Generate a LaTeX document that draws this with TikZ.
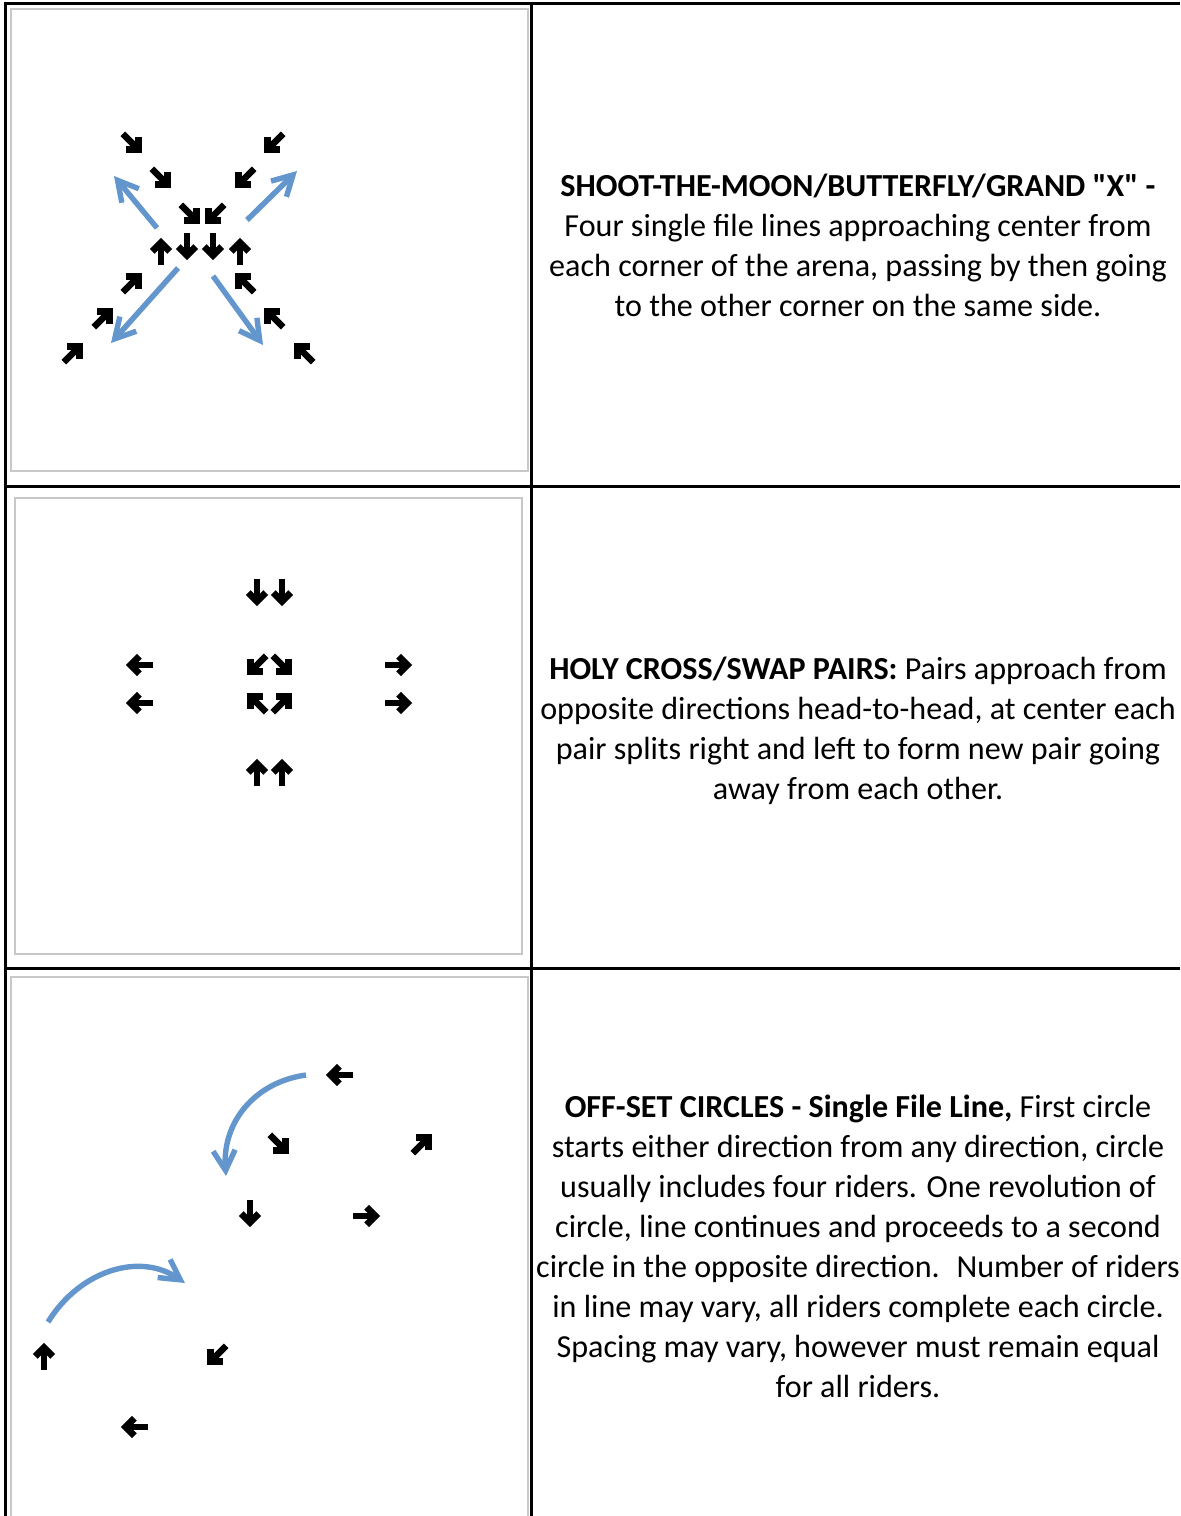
\documentclass[tikz,border=0pt]{standalone}
\usepackage{fontspec}
\setmainfont{Carlito}[Ligatures=TeXOff]
\usetikzlibrary{arrows.meta}
\definecolor{moveblue}{RGB}{99,150,205}
\definecolor{framegray}{RGB}{200,200,200}

\begin{document}
\begin{tikzpicture}[%
            x=0.5pt, y=-0.5pt,
            myrule/.style={line width=1.5pt},
            myframe/.style={draw=framegray, line width=1pt},
            mymove/.style={draw=moveblue, line width=2.7pt,
                -{Straight Barb[length=10pt,width=11pt]},
                preaction={draw=black, opacity=0.12,
                    transform canvas={shift={(0.9pt,-0.9pt)}}}},
            mytext/.style={align=center, font=\fontsize{16.05}{20}\selectfont},
            myrider/.pic={
                \draw [line width=3.2pt] (-6.5pt,0) -- (4pt,0);
                \draw [line width=3.4pt] (0.3pt,-4.4pt) -- (4.7pt,0) -- (0.3pt,4.4pt);
            }
    ]
        \useasboundingbox (0,0) rectangle (1180,1516);

        % table rules
        \draw [myrule] (5,1516) -- (5,3) -- (1180,3);
        \draw [myrule] (531,3) -- (531,1516);
        \draw [myrule] (5,486) -- (1180,486);
        \draw [myrule] (5,968) -- (1180,968);

        % picture frames
        \draw [myframe] (11,9) rectangle (528,471);
        \draw [myframe] (15,498) rectangle (522,954);
        \draw [myframe] (11,1530) -- (11,977) -- (528,977) -- (528,1530);

        % shoot-the-moon
        \foreach \x/\y/\a in {132/143/-45, 161/178/-45, 190/214/-45,
                              274/143/-135, 245/178/-135, 215/214/-135,
                              161/252/90, 187/246/-90, 213/246/-90, 240/252/90,
                              132/283/45, 103/318/45, 73/353/45,
                              245/283/135, 274/318/135, 304/353/135}
            \pic [rotate=\a] at (\x,\y) {myrider};
        \coordinate (nwtail) at (157,228);
        \coordinate (nwtip) at (114,176);
        \coordinate (netail) at (247,220);
        \coordinate (netip) at (297,171);
        \coordinate (swtail) at (178,268);
        \coordinate (swtip) at (111,343);
        \coordinate (setail) at (213,276);
        \coordinate (setip) at (263,345);
        \draw [mymove] (nwtail) -- (nwtip);
        \draw [mymove] (netail) -- (netip);
        \draw [mymove] (swtail) -- (swtip);
        \draw [mymove] (setail) -- (setip);

        % holy cross
        \foreach \x/\y/\a in {257/592/-90, 282/592/-90,
                              140/665/180, 140/703/180,
                              257/665/-135, 282/665/-45,
                              257/703/135, 282/703/45,
                              398/665/0, 398/703/0,
                              257/773/90, 282/773/90}
            \pic [rotate=\a] at (\x,\y) {myrider};

        % off-set circles
        \foreach \x/\y/\a in {340/1075/180, 279/1144/-45, 422/1144/45,
                              250/1213/-90, 366/1216/0,
                              44/1357/90, 217/1355/-135, 135/1427/180}
            \pic [rotate=\a] at (\x,\y) {myrider};
        \coordinate (firststart) at (306,1075);
        \coordinate (firstend) at (226,1176);
        \coordinate (secondstart) at (48,1322);
        \coordinate (secondend) at (185,1283);
        \draw [mymove] (firststart) .. controls (255,1082) and (222,1122) .. (firstend);
        \draw [mymove] (secondstart) .. controls (80,1270) and (140,1252) .. (secondend);

        % descriptions
        \node [mytext] (shoot) at (858,245) {%
            \textbf{SHOOT-THE-MOON/BUTTERFLY/GRAND "X" -}\\
            Four single file lines approaching center from\\
            each corner of the arena, passing by then going\\
            to the other corner on the same side.};
        \node [mytext] (cross) at (858,731) {%
            \textbf{HOLY CROSS/SWAP PAIRS:} Pairs approach from\\
            opposite directions head-to-head, at center each\\
            pair splits right and left to form new pair going\\
            away from each other.};
        \node [mytext] (circles) at (858,1246) {%
            \textbf{OFF-SET CIRCLES - Single File Line,} First circle\\
            starts either direction from any direction, circle\\
            usually includes four riders. One revolution of\\
            circle, line continues and proceeds to a second\\
            circle in the opposite direction.~ Number of riders\\
            in line may vary, all riders complete each circle.\\
            Spacing may vary, however must remain equal\\
            for all riders.};
    \end{tikzpicture}
\end{document}
